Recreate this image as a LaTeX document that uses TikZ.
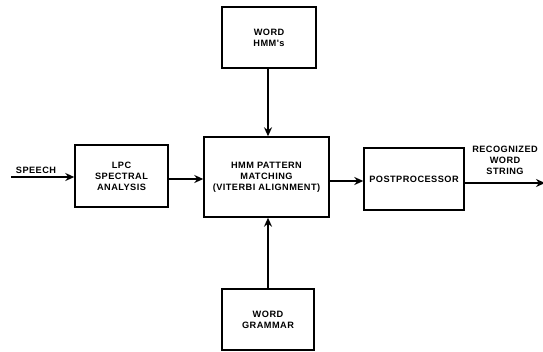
\documentclass[tikz,border=0pt]{standalone}
\usepackage{fontspec}
\setmainfont{Liberation Sans}
\usetikzlibrary{arrows.meta}
\newfontfamily\lblfont[LetterSpace=5]{Liberation Sans}
\begin{document}
\begin{tikzpicture}[x=1pt,y=-1pt,
  blk/.style={draw,line width=1.4pt,inner sep=0pt,font=\lblfont\bfseries\fontsize{9.2}{11}\selectfont,align=center},
  conn/.style={line width=1.7pt,-{Stealth[length=9pt,width=8pt]}},
  lbl/.style={font=\lblfont\bfseries\fontsize{9.2}{11}\selectfont,align=center,inner sep=0pt}]
\useasboundingbox (0,0) rectangle (543,351);
\node[blk,minimum width=93pt,minimum height=62pt] (lpc) at (121.5,176) {LPC\\SPECTRAL\\ANALYSIS};
\node[blk,minimum width=94pt,minimum height=61pt] (hmms) at (269,37.5) {WORD\\HMM's};
\node[blk,minimum width=125pt,minimum height=80pt] (hmm) at (266.5,177) {HMM PATTERN\\MATCHING\\(VITERBI ALIGNMENT)};
\node[blk,minimum width=100pt,minimum height=62pt] (post) at (414,179) {POSTPROCESSOR};
\node[blk,minimum width=92pt,minimum height=61pt] (gram) at (268,319.5) {WORD\\GRAMMAR};
\coordinate (in) at (11,177);
\coordinate (out) at (545,183);
\draw[conn,line width=2.4pt] (in) -- (lpc.west |- in);
\node[lbl,anchor=south] (speech) at (36,174) {SPEECH};
\draw[conn] (lpc.east |- 0,179) -- (hmm.west |- 0,179);
\draw[conn] (hmms.south -| 268,0) -- (hmm.north -| 268,0);
\draw[conn] (gram.north -| 268,0) -- (hmm.south -| 268,0);
\draw[conn] (hmm.east |- 0,181) -- (post.west |- 0,181);
\draw[conn,line width=2.2pt] (post.east |- out) -- (out);
\node[lbl] (rws) at (505,160) {RECOGNIZED\\WORD\\STRING};
\end{tikzpicture}
\end{document}
